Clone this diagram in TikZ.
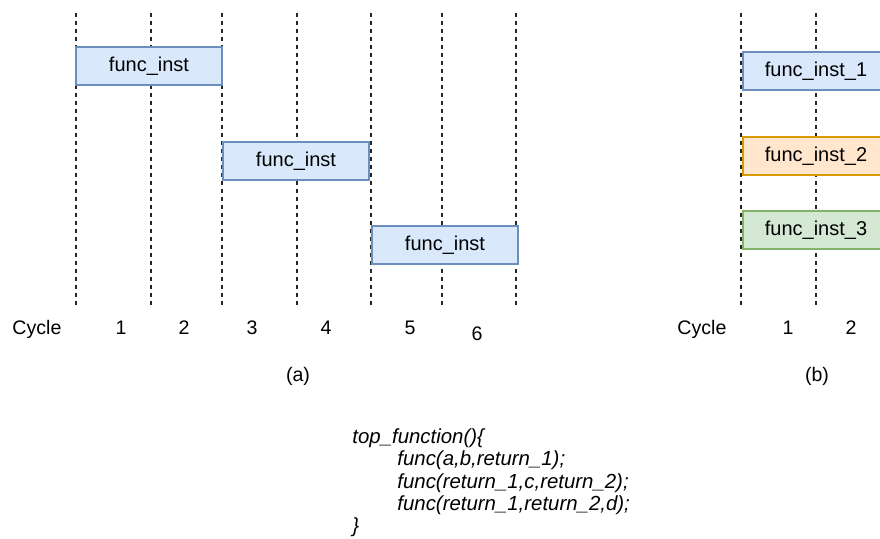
\documentclass[tikz,border=0pt]{standalone}
\usepackage{fontspec}
\setmainfont{Liberation Sans}
\definecolor{bluefill}{HTML}{DAE8FC}
\definecolor{bluedraw}{HTML}{6C8EBF}
\definecolor{orangefill}{HTML}{FFE6CC}
\definecolor{orangedraw}{HTML}{D79B00}
\definecolor{greenfill}{HTML}{D5E8D4}
\definecolor{greendraw}{HTML}{82B366}
\begin{document}
\begin{tikzpicture}[x=0.5pt,y=-0.5pt,
  cycleline/.style={dash pattern=on 2pt off 2pt, line width=0.65pt, black!85},
  inst/.style={draw, line width=0.6pt, minimum width=73pt, minimum height=19pt,
    inner sep=0pt, font=\fontsize{10}{12}\selectfont},
  instblue/.style={inst, fill=bluefill, draw=bluedraw},
  instorange/.style={inst, fill=orangefill, draw=orangedraw},
  instgreen/.style={inst, fill=greenfill, draw=greendraw},
  lbl/.style={anchor=base, inner sep=0pt, font=\fontsize{9.8}{12}\selectfont},
  code/.style={anchor=base west, inner sep=0pt, font=\fontsize{10.2}{12}\selectfont\itshape}]
\useasboundingbox (0,0) rectangle (880,538);
\clip (0,0) rectangle (880,538);

% cycle boundaries
\foreach \n/\x in {a1/76,a2/151,a3/222,a4/297,a5/371,a6/442,a7/516,b1/741,b2/816}{
  \coordinate (top\n) at (\x,13);
  \coordinate (bot\n) at (\x,305);
  \draw[cycleline] (top\n) -- (bot\n);
}

% (a) sequential instances
\node[instblue] (fa1) at (149,66) {func\_inst};
\node[instblue] (fa2) at (296,161) {func\_inst};
\node[instblue] (fa3) at (445,245) {func\_inst};

% (b) parallel instances
\node[instblue]   (fb1) at (816,71)  {func\_inst\_1};
\node[instorange] (fb2) at (816,156) {func\_inst\_2};
\node[instgreen]  (fb3) at (816,230) {func\_inst\_3};

% cycle labels (a)
\node[lbl] (cyca) at (37,334) {Cycle};
\node[lbl] (na1) at (121,334) {1};
\node[lbl] (na2) at (184,334) {2};
\node[lbl] (na3) at (252,334) {3};
\node[lbl] (na4) at (326,334) {4};
\node[lbl] (na5) at (410,334) {5};
\node[lbl] (na6) at (477,340) {6};
\node[lbl] (capa) at (298,381) {(a)};

% cycle labels (b)
\node[lbl] (cycb) at (702,334) {Cycle};
\node[lbl] (nb1) at (788,334) {1};
\node[lbl] (nb2) at (851,334) {2};
\node[lbl] (capb) at (817,381) {(b)};

% source code
\node[code] (c1) at (352,443) {top\_function()\{};
\node[code] (c2) at (397,465) {func(a,b,return\_1);};
\node[code] (c3) at (397,488) {func(return\_1,c,return\_2);};
\node[code] (c4) at (397,510) {func(return\_1,return\_2,d);};
\node[code] (c5) at (352,532) {\}};
\end{tikzpicture}
\end{document}
